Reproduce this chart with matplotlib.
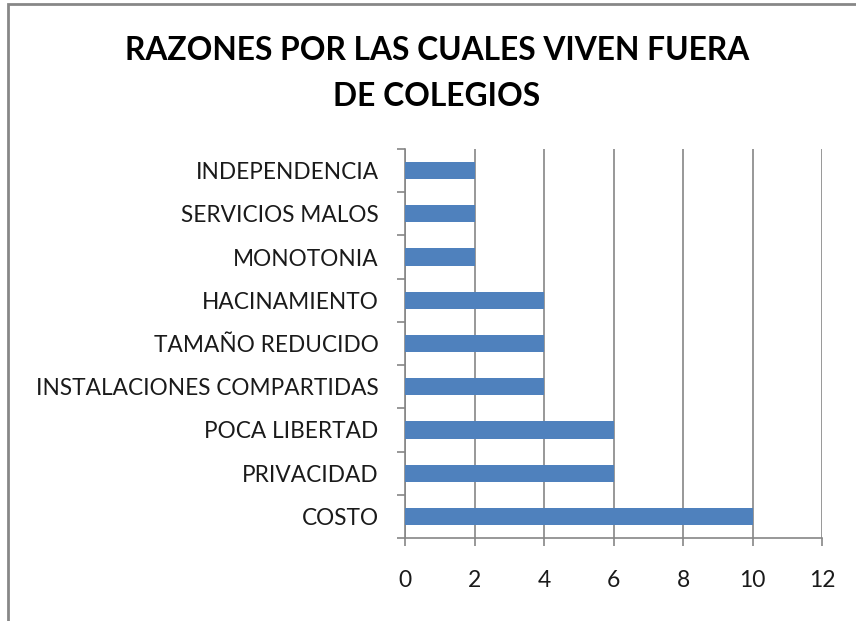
import matplotlib.pyplot as plt
from matplotlib.patches import Rectangle

categorias = ['COSTO', 'PRIVACIDAD', 'POCA LIBERTAD', 'INSTALACIONES COMPARTIDAS',
              'TAMAÑO REDUCIDO', 'HACINAMIENTO', 'MONOTONIA', 'SERVICIOS MALOS',
              'INDEPENDENCIA']
valores = [10, 6, 6, 4, 4, 4, 2, 2, 2]
ticks_x = [0, 2, 4, 6, 8, 10, 12]

plt.rcParams['font.family'] = ['Lato', 'DejaVu Sans']

W, H = 856, 621
fig = plt.figure(figsize=(W / 100, H / 100), dpi=100)
fig.patch.set_facecolor('white')

# borde del grafico
fig.patches.append(Rectangle((8 / W, -0.05), 1.0, 1 - 4 / H + 0.05, transform=fig.transFigure,
                             fill=False, edgecolor='#878787', linewidth=2))

ax = fig.add_axes([405 / W, 1 - 538 / H, (822 - 405) / W, (538 - 149) / H])
pos = range(len(categorias))
ax.barh(pos, valores, height=0.4, color='#4F81BD', zorder=3)

ax.set_xlim(0, 12)
ax.set_ylim(-0.5, len(categorias) - 0.5)
ax.set_xticks(ticks_x)
ax.set_xticklabels([str(t) for t in ticks_x])
ax.set_yticks(pos)
ax.set_yticklabels(categorias)
ax.set_yticks([p - 0.5 for p in range(len(categorias) + 1)], minor=True)

ax.grid(axis='x', color='#868686', linewidth=1.2, zorder=0)
for s in ['top', 'right']:
    ax.spines[s].set_visible(False)
for s in ['left', 'bottom']:
    ax.spines[s].set_color('#868686')
    ax.spines[s].set_linewidth(1.2)

ax.tick_params(axis='y', which='major', length=0, pad=19, labelsize=16.3, labelcolor='#1a1a1a')
ax.tick_params(axis='y', which='minor', length=6, width=1.2, color='#868686')
ax.tick_params(axis='x', length=6, width=1.2, color='#868686', pad=17,
               labelsize=16.5, labelcolor='#1a1a1a')

fig.text(437 / W, 1 - 50 / H, 'RAZONES POR LAS CUALES VIVEN FUERA', ha='center', va='center',
         fontsize=22.9, fontweight='bold')
fig.text(437 / W, 1 - 97 / H, 'DE COLEGIOS', ha='center', va='center',
         fontsize=22.9, fontweight='bold')

fig.savefig('out.png', dpi=100)
